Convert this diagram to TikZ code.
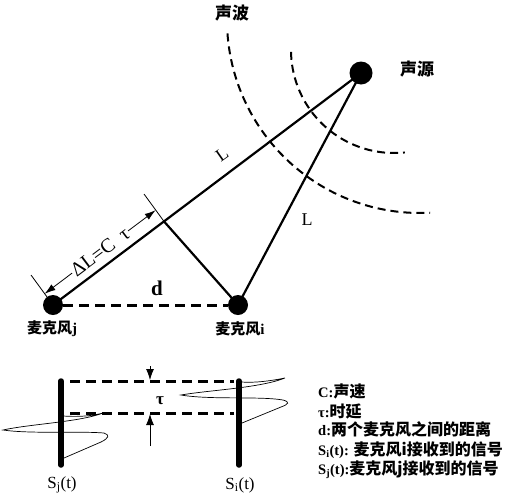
\documentclass[tikz,border=0pt]{standalone}
\usepackage{fontspec}
\setmainfont{Liberation Serif}
\newfontfamily\cjk{Noto Sans CJK SC}
\usetikzlibrary{arrows.meta}
\begin{document}
\begin{tikzpicture}[x=1pt,y=-1pt,
  dot/.style={circle,fill=black,inner sep=0pt,minimum size=20pt},
  main/.style={line width=2.2pt},
  thinline/.style={line width=0.8pt},
  wavefront/.style={line width=2pt,dash pattern=on 8pt off 5pt},
  dashmain/.style={line width=3pt,dash pattern=on 10pt off 6pt},
  barline/.style={line width=5.5pt,line cap=round},
  sig/.style={line width=0.7pt},
  tip/.style={-{Latex[length=11pt,width=8pt]}},
  bigcjk/.style={font=\cjk\bfseries\fontsize{17}{18}\selectfont},
  leg/.style={anchor=base west,inner sep=0pt,font=\bfseries\fontsize{14.5}{16}\selectfont}]
\useasboundingbox (0,0) rectangle (521,501);
% sound waves
\draw[wavefront] plot[domain=176:87,samples=80] ({420+193*cos(\x)},{20+193*sin(\x)});
\draw[wavefront] plot[domain=179:84,samples=60] ({394+103*cos(\x)},{50+103*sin(\x)});
% nodes
\node[dot,minimum size=23pt] (s) at (361,73) {};
\node[dot] (j) at (53,305) {};
\node[dot] (i) at (238,305) {};
\coordinate (f) at (164,221.4);
\draw[main] (j.center) -- (s.center);
\draw[main] (i.center) -- (s.center);
\draw[main] (i.center) -- (f);
\draw[dashmain] (j) -- (i);
% dimension
\coordinate (ej1) at (50,301);
\coordinate (ej2) at (31,275);
\coordinate (ef2) at (144,194);
\coordinate (dj) at (44.6,293.8);
\coordinate (df) at (155.6,210.2);
\draw[thinline] (ej1) -- (ej2);
\draw[thinline] (f) -- (ef2);
\draw[thinline,{Latex[length=11pt,width=7pt]}-{Latex[length=11pt,width=7pt]}] (dj) -- node[sloped,fill=white,inner sep=1pt,font=\fontsize{20}{20}\selectfont] {ΔL=C\ \ τ} (df);
% labels
\node[font=\fontsize{18}{18}\selectfont,rotate=35] (l1) at (222,155) {L};
\node[font=\fontsize{18}{18}\selectfont] (l2) at (307,220) {L};
\node[font=\bfseries\fontsize{21}{21}\selectfont] (dl) at (157,288) {d};
\node[bigcjk] (wv) at (232,13) {声波};
\node[bigcjk] (src) at (417,69) {声源};
\node (mj) at (52,329) {{\cjk\bfseries\fontsize{15}{16}\selectfont 麦克风}{\bfseries\fontsize{15}{16}\selectfont j}};
\node (mi) at (240,329) {{\cjk\bfseries\fontsize{15}{16}\selectfont 麦克风}{\bfseries\fontsize{15}{16}\selectfont i}};
% signals
\coordinate (bj1) at (61,381);
\coordinate (bj2) at (61,465);
\coordinate (bi1) at (239,381);
\coordinate (bi2) at (239,465);
\draw[barline] (bj1) -- (bj2);
\draw[barline] (bi1) -- (bi2);
\coordinate (t1) at (70,381);
\coordinate (t2) at (234,381);
\coordinate (u1) at (70,413);
\coordinate (u2) at (234,413);
\draw[dashmain] (t1) -- (t2);
\draw[dashmain] (u1) -- (u2);
\coordinate (a1) at (150,366);
\coordinate (a2) at (150,380);
\coordinate (c1) at (150,446);
\coordinate (c2) at (150,414);
\draw[thinline,tip] (a1) -- (a2);
\draw[thinline,tip] (c1) -- (c2);
\node[font=\bfseries\fontsize{17}{17}\selectfont] (tau) at (160,401) {τ};
\draw[sig] (63,416) .. controls (80,417) and (92,416) .. (103,413)
  .. controls (80,422) and (30,424) .. (3,430)
  .. controls (30,434) and (80,431) .. (104,433)
  .. controls (110,435) and (109,438) .. (101,442) -- (64,458);
\draw[sig] (241,382) .. controls (255,383) and (270,381) .. (285,378)
  .. controls (260,388) and (210,390) .. (181,395)
  .. controls (210,400) and (260,396) .. (283,400)
  .. controls (290,402) and (289,404) .. (281,407) -- (242,423);
\node[font=\fontsize{17}{17}\selectfont] (sj) at (62,485) {S\textsubscript{j}(t)};
\node[font=\fontsize{17}{17}\selectfont] (si) at (240,485) {S\textsubscript{i}(t)};
% legend
\node[leg] (g1) at (318,397) {C:{\cjk\fontsize{16}{16}\selectfont 声速}};
\node[leg] (g2) at (318,417) {τ:{\cjk\fontsize{16}{16}\selectfont 时延}};
\node[leg] (g3) at (318,435) {d:{\cjk\fontsize{16}{16}\selectfont 两个麦克风之间的距离}};
\node[leg] (g4) at (318,455) {S\textsubscript{i}(t): {\cjk\fontsize{16}{16}\selectfont 麦克风i接收到的信号}};
\node[leg] (g5) at (318,474) {S\textsubscript{j}(t):{\cjk\fontsize{16}{16}\selectfont 麦克风j接收到的信号}};
\end{tikzpicture}
\end{document}
